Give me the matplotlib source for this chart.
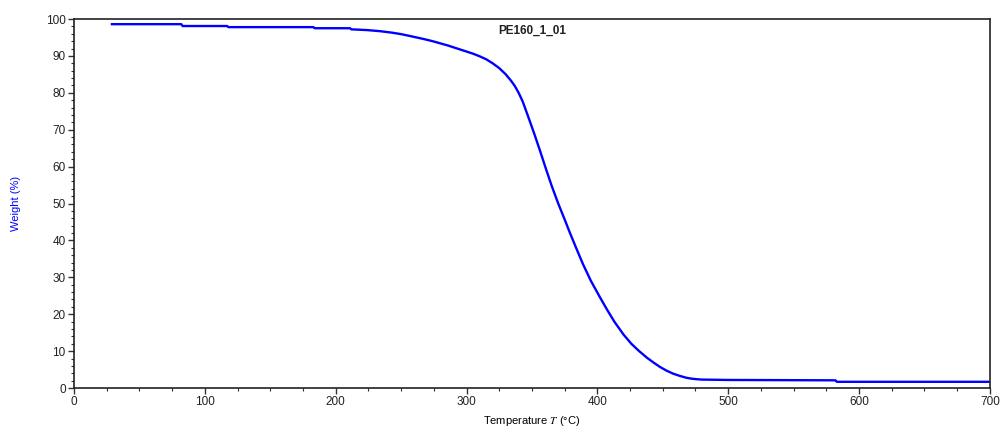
import matplotlib
matplotlib.use("Agg")
import matplotlib.pyplot as plt
from matplotlib.ticker import MultipleLocator

plt.rcParams['font.family'] = ['Liberation Sans', 'DejaVu Sans']
plt.rcParams['mathtext.fontset'] = 'stix'

temperature = [29, 82, 83, 117, 118, 183, 184, 211, 212, 224, 234, 243, 250, 258, 267,
               274, 280, 286, 292, 299, 305, 310, 315, 320, 325, 330, 334, 337, 340,
               343, 347, 352, 356, 361, 365, 370, 375, 379, 384, 389, 395, 402, 407,
               413, 420, 426, 432, 438, 443, 448, 453, 458, 463, 468, 472, 476,
               480, 500, 582, 583, 700]
weight = [98.6, 98.6, 98.1, 98.1, 97.8, 97.8, 97.5, 97.5, 97.2, 97.0, 96.7, 96.3, 95.9,
          95.3, 94.6, 94.0, 93.4, 92.8, 92.1, 91.3, 90.6, 89.9, 89.1, 88.0, 86.7, 85.0,
          83.3, 81.8, 79.9, 77.6, 73.7, 68.7, 64.5, 59.1, 54.9, 50.1, 45.7, 42.1, 37.8,
          33.6, 29.1, 24.6, 21.5, 18.0, 14.5, 12.0, 10.0, 8.2, 6.9, 5.7, 4.7, 3.9,
          3.3, 2.8, 2.55, 2.4, 2.3, 2.2, 2.1, 1.7, 1.7]

fig = plt.figure(figsize=(10.08, 4.42), dpi=100)
ax = fig.add_axes([0.0734, 0.122, 0.9086, 0.835])
ax.plot(temperature, weight, color='#0000ff', lw=1.7, solid_joinstyle='round')
ax.set_xlim(0, 700)
ax.set_ylim(0, 100)
ax.xaxis.set_major_locator(MultipleLocator(100))
ax.xaxis.set_minor_locator(MultipleLocator(25))
ax.yaxis.set_major_locator(MultipleLocator(10))
ax.yaxis.set_minor_locator(MultipleLocator(2))
ax.tick_params(which='both', direction='out', top=False, right=False, labelsize=8.5,
               pad=2, colors='#333333', labelcolor='#222222')
ax.tick_params(which='major', length=4, width=1)
ax.tick_params(which='minor', length=2.5, width=0.8)
for s in ax.spines.values():
    s.set_linewidth(1.2)
    s.set_color('#222222')
ax.set_xlabel('Temperature $T$ (°C)', fontsize=8, labelpad=4)
ax.set_ylabel('Weight (%)', fontsize=8, color='#0000ff', labelpad=18)
ax.text(0.5, 0.985, 'PE160_1_01', transform=ax.transAxes, ha='center', va='top',
        fontsize=8.5, fontweight='bold', color='#222222')
fig.savefig('out.png', dpi=100)
